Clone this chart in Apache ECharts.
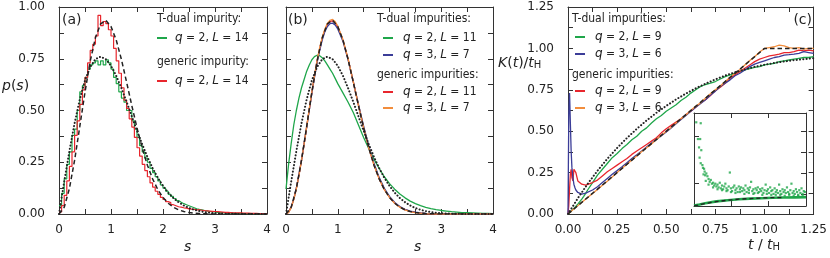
<!DOCTYPE html>
<html><head><meta charset="utf-8">
<script src="https://cdn.jsdelivr.net/npm/echarts@6/dist/echarts.min.js"></script>
<style>html,body{margin:0;padding:0;background:#fff}#c{width:830px;height:258px}</style>
</head><body><div id="c"></div>
<script>
// ---------- DATA ----------
// Panel (a): histograms, bin width 0.05 starting at s = 0
const histBin = 0.05;
const histGreenA = [0.04,0.10,0.17,0.24,0.30,0.38,0.41,0.50,0.59,0.62,
  0.66,0.70,0.72,0.73,0.74,0.72,0.74,0.72,0.745,0.73,
  0.70,0.66,0.63,0.59,0.56,0.54,0.50,0.50,0.45,0.41,
  0.37,0.33,0.30,0.27,0.25,0.22,0.20,0.18,0.16,0.14,
  0.125,0.11,0.095,0.085,0.075,0.065,0.057,0.05,0.045,0.04,
  0.035,0.03,0.025,0.022,0.02,0.017,0.015,0.012,0.011,0.01,
  0.008,0.007,0.006,0.005,0.005,0.004,0.004,0.003,0.003,0.003,
  0.002,0.002,0.002,0.002,0.001,0.001,0.001,0.001,0.001,0.001];
const histRedA = [0.01,0.04,0.09,0.16,0.23,0.30,0.38,0.45,0.53,0.60,
  0.66,0.73,0.79,0.82,0.86,0.96,0.91,0.93,0.92,0.89,
  0.86,0.80,0.74,0.68,0.61,0.55,0.51,0.46,0.42,0.37,
  0.32,0.28,0.24,0.21,0.18,0.15,0.13,0.11,0.095,0.08,
  0.07,0.06,0.055,0.045,0.04,0.035,0.033,0.03,0.028,0.025,
  0.024,0.022,0.02,0.02,0.018,0.016,0.015,0.014,0.013,0.012,
  0.011,0.01,0.009,0.008,0.008,0.007,0.006,0.006,0.005,0.005,
  0.004,0.004,0.004,0.003,0.003,0.003,0.002,0.002,0.002,0.002];
// Reference curves p(s) (dotted / dashed)
const sTheory = [0,0.1,0.2,0.3,0.4,0.5,0.6,0.7,0.8,0.9,1.0,1.1,1.2,1.3,1.4,1.5,1.6,1.7,1.8,1.9,2.0,
  2.1,2.2,2.3,2.4,2.5,2.6,2.7,2.8,2.9,3.0,3.1,3.2,3.3,3.4,3.5,3.6,3.7,3.8,3.9,4.0];
const pDotted = [0,0.156,0.304,0.439,0.554,0.646,0.710,0.748,0.760,0.748,0.716,0.668,0.608,0.542,0.472,0.402,0.337,0.276,0.222,0.175,0.136,
  0.103,0.077,0.057,0.041,0.029,0.020,0.014,0.009,0.006,0.004,0.0025,0.0016,0.001,0.0006,0.0004,0.0002,0.0001,0.0001,0,0];
const pDashed = [0,0.032,0.123,0.260,0.423,0.589,0.738,0.851,0.919,0.936,0.906,0.841,0.747,0.637,0.524,0.416,0.319,0.236,0.170,0.118,0.080,
  0.052,0.033,0.020,0.012,0.007,0.004,0.002,0.001,0.0006,0.0003,0.0001,0,0,0,0,0,0,0,0,0];
// Panel (b)
const sB = [0,0.05,0.1,0.15,0.2,0.25,0.3,0.35,0.4,0.45,0.5,0.55,0.6,0.65,0.7,0.75,0.8,0.85,0.9,0.95,1.0,
  1.1,1.2,1.3,1.4,1.5,1.6,1.7,1.8,1.9,2.0,2.1,2.2,2.3,2.4,2.5,2.6,2.7,2.8,2.9,3.0,
  3.1,3.2,3.3,3.4,3.5,3.6,3.7,3.8,3.9,4.0];
const greenB = [0.12,0.24,0.34,0.43,0.5,0.56,0.61,0.65,0.69,0.72,0.745,0.76,0.767,0.765,0.755,0.74,0.72,0.70,0.68,0.655,0.63,
  0.585,0.54,0.49,0.43,0.37,0.315,0.265,0.22,0.18,0.147,0.12,0.097,0.078,0.062,0.05,0.04,0.032,0.026,0.021,0.017,
  0.014,0.011,0.009,0.007,0.006,0.005,0.004,0.003,0.003,0.002];
const blueB = [0,0.01,0.034,0.072,0.125,0.19,0.262,0.34,0.42,0.503,0.584,0.66,0.73,0.79,0.84,0.88,0.906,0.92,0.922,0.913,0.894,
  0.835,0.745,0.64,0.53,0.424,0.328,0.245,0.177,0.124,0.085,0.056,0.036,0.023,0.014,0.009,0.005,0.003,0.002,0.001,0.001,
  0,0,0,0,0,0,0,0,0,0];
const redB = [0,0.009,0.033,0.072,0.124,0.188,0.26,0.338,0.421,0.505,0.587,0.665,0.736,0.797,0.848,0.888,0.915,0.93,0.933,0.924,0.904,
  0.84,0.748,0.638,0.526,0.418,0.321,0.238,0.171,0.119,0.081,0.053,0.034,0.021,0.013,0.008,0.004,0.002,0.001,0,0,
  0,0,0,0,0,0,0,0,0,0];
const orangeB = [0,0.008,0.031,0.07,0.122,0.186,0.259,0.339,0.423,0.508,0.59,0.668,0.74,0.802,0.853,0.893,0.921,0.936,0.94,0.93,0.908,
  0.843,0.749,0.639,0.525,0.417,0.32,0.237,0.17,0.118,0.08,0.052,0.033,0.02,0.012,0.007,0.004,0.002,0.001,0,0,
  0,0,0,0,0,0,0,0,0,0];
// Panel (c)
const tauC = [0,0.004,0.008,0.012,0.016,0.02,0.025,0.03,0.035,0.04,0.05,0.06,0.07,0.08,0.09,0.1,
  0.125,0.15,0.175,0.2,0.225,0.25,0.275,0.3,0.325,0.35,0.375,0.4,0.425,0.45,0.475,0.5,0.525,0.55,0.575,0.6,
  0.625,0.65,0.675,0.7,0.725,0.75,0.775,0.8,0.825,0.85,0.875,0.9,0.925,0.95,0.975,1.0,1.025,1.05,1.075,1.1,
  1.125,1.15,1.175,1.2,1.225,1.25];
const greenC = [0,0.004,0.008,0.012,0.017,0.022,0.028,0.034,0.04,0.047,0.06,0.075,0.09,0.107,0.125,0.145,
  0.19,0.235,0.27,0.305,0.34,0.365,0.395,0.42,0.448,0.47,0.5,0.52,0.55,0.575,0.595,0.62,0.64,0.66,0.685,0.705,
  0.73,0.75,0.77,0.782,0.79,0.8,0.815,0.83,0.84,0.85,0.86,0.87,0.878,0.885,0.89,0.9,0.905,0.91,0.92,0.925,
  0.93,0.935,0.94,0.945,0.945,0.95];
const blueC = [0,0.6,0.73,0.55,0.38,0.28,0.22,0.18,0.16,0.145,0.13,0.122,0.12,0.122,0.126,0.13,
  0.145,0.165,0.19,0.215,0.24,0.262,0.285,0.31,0.335,0.357,0.38,0.405,0.428,0.45,0.472,0.495,0.52,0.545,0.57,0.595,
  0.62,0.645,0.668,0.69,0.718,0.742,0.77,0.79,0.81,0.835,0.85,0.87,0.89,0.905,0.915,0.925,0.935,0.945,0.95,0.96,
  0.962,0.965,0.97,0.98,0.975,0.97];
const redC = [0,0.05,0.15,0.24,0.27,0.22,0.2,0.27,0.28,0.25,0.2,0.19,0.18,0.185,0.175,0.18,
  0.19,0.205,0.23,0.255,0.275,0.295,0.315,0.335,0.36,0.38,0.4,0.42,0.44,0.46,0.49,0.515,0.535,0.555,0.575,0.6,
  0.62,0.645,0.67,0.69,0.715,0.745,0.765,0.79,0.82,0.84,0.86,0.88,0.9,0.92,0.935,0.945,0.955,0.96,0.965,0.975,
  0.975,0.98,0.99,0.985,0.99,0.985];
const orangeC = [0,0.005,0.009,0.012,0.016,0.02,0.025,0.03,0.035,0.04,0.05,0.06,0.07,0.08,0.09,0.1,
  0.124,0.148,0.174,0.198,0.224,0.25,0.276,0.3,0.326,0.35,0.377,0.4,0.423,0.45,0.476,0.5,0.523,0.55,0.575,0.598,
  0.626,0.65,0.672,0.7,0.727,0.75,0.773,0.8,0.826,0.85,0.873,0.9,0.927,0.95,0.978,1.0,1.005,1.01,1.02,1.015,
  1.005,1.0,1.005,0.995,1.0,1.0];
const tauTheory = [0,0.05,0.1,0.15,0.2,0.25,0.3,0.35,0.4,0.45,0.5,0.55,0.6,0.65,0.7,0.75,0.8,0.85,0.9,0.95,1.0,1.05,1.1,1.15,1.2,1.25];
const kDotted = [0,0.095,0.182,0.261,0.333,0.399,0.459,0.514,0.565,0.611,0.653,0.692,0.727,0.759,0.787,0.813,0.836,0.856,0.873,0.889,0.901,0.912,0.921,0.929,0.935,0.941];
const tauDashed = [0,1,1.25];
const kDashed = [0,1,1];
// Inset (arbitrary units, no labels)
const insetT = [0.02,0.06,0.035,0.055,0.045,0.065,0.05,0.06,0.075,0.08,0.09,0.095,0.085,0.10,0.11,0.12,0.13,0.105,0.14,0.15,
  0.16,0.17,0.18,0.19,0.20,0.21,0.22,0.23,0.24,0.25,0.26,0.27,0.28,0.29,0.30,0.31,0.32,0.33,0.34,0.35,
  0.36,0.37,0.38,0.39,0.40,0.41,0.42,0.43,0.44,0.45,0.46,0.47,0.48,0.49,0.50,0.51,0.52,0.53,0.54,0.55,
  0.56,0.57,0.58,0.59,0.60,0.61,0.62,0.63,0.64,0.65,0.66,0.67,0.68,0.69,0.70,0.71,0.72,0.73,0.74,0.75,
  0.76,0.77,0.78,0.79,0.80,0.81,0.82,0.83,0.84,0.85,0.86,0.87,0.88,0.89,0.90,0.91,0.92,0.93,0.94,0.95,
  0.96,0.97,0.98,0.99,0.13,0.17,0.21,0.25,0.29,0.33,0.37,0.41,0.45,0.49,0.53,0.57,0.61,0.65,0.69,0.73,
  0.77,0.81,0.85,0.89,0.93,0.97];
const insetK = [0.90,0.89,0.72,0.72,0.63,0.60,0.52,0.46,0.44,0.41,0.40,0.37,0.34,0.33,0.35,0.32,0.29,0.27,0.26,0.28,
  0.24,0.25,0.22,0.24,0.21,0.23,0.20,0.25,0.19,0.22,0.18,0.21,0.24,0.19,0.17,0.21,0.36,0.19,0.16,0.20,
  0.22,0.17,0.19,0.15,0.21,0.18,0.20,0.16,0.19,0.17,0.22,0.15,0.19,0.17,0.20,0.26,0.16,0.18,0.14,0.19,
  0.17,0.20,0.15,0.18,0.16,0.19,0.14,0.17,0.23,0.16,0.18,0.14,0.20,0.16,0.17,0.13,0.19,0.15,0.17,0.14,
  0.23,0.16,0.13,0.18,0.15,0.17,0.14,0.20,0.15,0.13,0.17,0.24,0.14,0.16,0.13,0.18,0.15,0.12,0.17,0.14,
  0.19,0.13,0.16,0.15,0.23,0.20,0.18,0.17,0.16,0.15,0.14,0.15,0.13,0.14,0.13,0.14,0.12,0.13,0.12,0.12,
  0.12,0.11,0.12,0.11,0.11,0.11];
const insetLineT = [0,0.05,0.1,0.2,0.3,0.4,0.5,0.6,0.7,0.8,0.9,1.0];
const insetLineK = [0.005,0.017,0.03,0.05,0.062,0.072,0.079,0.084,0.088,0.091,0.093,0.095];
const insetDashT = [0,0.1,0.2,0.3,0.4,0.5,0.6,0.7,0.8];
const insetDashK = [0,0.027,0.047,0.062,0.073,0.08,0.086,0.09,0.092];

// ---------- STYLE ----------
const GREEN = '#1fa64a', RED = '#e8262d', BLUE = '#3b3d98', ORANGE = '#f28d3c', BLACK = '#222';
const FONT = 'DejaVu Sans', LFONT = 'DejaVu Sans Condensed';
const AXC = '#333';

function isInt(v){ return Math.abs(v - Math.round(v)) < 1e-9; }
const fmtInt = v => isInt(v) ? String(Math.round(v)) : '';
const fmtQuarter = v => isInt(v*4) ? v.toFixed(2) : '';

function axis(gridIndex, position, min, max, interval, fmt, extra){
  const isY = position === 'left' || position === 'right';
  const a = {
    type: 'value', gridIndex, position, min, max, interval,
    axisLine: {show: true, onZero: false, lineStyle: {color: AXC, width: 1}},
    axisTick: {show: true, inside: true, length: 5, lineStyle: {color: AXC, width: 1}},
    splitLine: {show: false},
    axisLabel: fmt ? {show: true, formatter: fmt, fontFamily: FONT, fontSize: 12, color: '#222', margin: isY ? 14 : 10} : {show: false}
  };
  return Object.assign(a, extra || {});
}
function line(xi, yi, xs, ys, color, opts){
  return Object.assign({
    type: 'line', xAxisIndex: xi, yAxisIndex: yi,
    data: xs.map((x, i) => [x, ys[i]]),
    symbol: 'none', showSymbol: false, animation: false, silent: true,
    lineStyle: {color, width: 1.3}, itemStyle: {color}, z: 2
  }, opts || {});
}
function hist(xi, yi, vals, color){
  const d = vals.map((v, i) => [i * histBin, v]);
  d.push([vals.length * histBin, vals[vals.length - 1]]);
  return {type: 'line', xAxisIndex: xi, yAxisIndex: yi, data: d, step: 'end',
    symbol: 'none', animation: false, silent: true, lineStyle: {color, width: 1.2}, z: 2};
}
const DOT = {type: [0.1, 3.2], width: 2, color: BLACK, cap: 'round'};
const DASH = {type: [4.5, 3], width: 1.5, color: BLACK};

const grids = [
  {left: 59, top: 7, width: 208, height: 207},
  {left: 286, top: 7, width: 207, height: 207},
  {left: 568, top: 7, width: 246, height: 207},
  {left: 694, top: 113, width: 112, height: 93, show: true, backgroundColor: '#fff', borderWidth: 0, z: 10}
];
const xAxes = [
  axis(0, 'bottom', 0, 4, 0.5, fmtInt), axis(0, 'top', 0, 4, 0.5, null),
  axis(1, 'bottom', 0, 4, 0.5, fmtInt), axis(1, 'top', 0, 4, 0.5, null),
  axis(2, 'bottom', 0, 1.25, 0.125, fmtQuarter), axis(2, 'top', 0, 1.25, 0.125, null),
  axis(3, 'bottom', 0, 1, null, null, {z: 11, axisTick: {show: true, inside: true, length: 5, lineStyle: {color: AXC}, customValues: [1/3, 2/3]}}),
  axis(3, 'top', 0, 1, null, null, {z: 11, axisTick: {show: true, inside: true, length: 5, lineStyle: {color: AXC}, customValues: [1/3, 2/3]}})
];
const yAxes = [
  axis(0, 'left', 0, 1, 0.125, fmtQuarter), axis(0, 'right', 0, 1, 0.125, null),
  axis(1, 'left', 0, 1, 0.125, null), axis(1, 'right', 0, 1, 0.125, null),
  axis(2, 'left', 0, 1.25, 0.125, fmtQuarter), axis(2, 'right', 0, 1.25, 0.125, null),
  axis(3, 'left', 0, 1, null, null, {z: 11, axisTick: {show: true, inside: true, length: 5, lineStyle: {color: AXC}, customValues: [0.25, 0.75]}}),
  axis(3, 'right', 0, 1, null, null, {z: 11, axisTick: {show: true, inside: true, length: 5, lineStyle: {color: AXC}, customValues: [0.13, 0.355, 0.575, 0.8]}})
];

const series = [
  // (a)
  hist(0, 0, histGreenA, GREEN),
  hist(0, 0, histRedA, RED),
  line(0, 0, sTheory, pDotted, BLACK, {lineStyle: DOT, z: 3}),
  line(0, 0, sTheory, pDashed, BLACK, {lineStyle: DASH, z: 3}),
  // (b)
  line(2, 2, sB, greenB, GREEN),
  line(2, 2, sTheory, pDotted, BLACK, {lineStyle: DOT, z: 3}),
  line(2, 2, sB, redB, RED),
  line(2, 2, sB, blueB, BLUE),
  line(2, 2, sB, orangeB, ORANGE),
  line(2, 2, sTheory, pDashed, BLACK, {lineStyle: DASH, z: 3}),
  // (c)
  line(4, 4, tauC, greenC, GREEN),
  line(4, 4, tauC, redC, RED),
  line(4, 4, tauC, blueC, BLUE),
  line(4, 4, tauC, orangeC, ORANGE),
  line(4, 4, tauTheory, kDotted, BLACK, {lineStyle: DOT, z: 3}),
  line(4, 4, tauDashed, kDashed, BLACK, {lineStyle: DASH, z: 3}),
  // inset
  {type: 'scatter', xAxisIndex: 6, yAxisIndex: 6, data: insetT.map((x, i) => [x, insetK[i]]),
    symbol: 'rect', symbolSize: 2.2, itemStyle: {color: GREEN}, animation: false, silent: true, z: 12},
  line(6, 6, insetLineT, insetLineK, GREEN, {lineStyle: {color: GREEN, width: 2.6}, z: 12}),
  line(6, 6, insetDashT, insetDashK, BLACK, {lineStyle: {type: [4, 3], width: 1.3, color: BLACK}, z: 13})
];

// ---------- TEXT / LEGENDS ----------
const RICH = {
  i: {fontStyle: 'italic', fontFamily: FONT, fontSize: 12, fill: '#222'},
  I: {fontStyle: 'italic', fontFamily: FONT, fontSize: 14, fill: '#222'},
  n: {fontFamily: FONT, fontSize: 14, fill: '#222'},
  sub: {fontFamily: FONT, fontSize: 10, fill: '#222', verticalAlign: 'bottom'}
};
function txt(x, y, text, size, family, align){
  return {type: 'text', x, y, z: 20, silent: true,
    style: {text, fill: '#222', fontFamily: family || FONT, fontSize: size || 12,
      align: align || 'left', verticalAlign: 'middle', rich: RICH}};
}
function sample(x, y, color){
  return {type: 'line', z: 20, silent: true, shape: {x1: x, y1: y, x2: x + 10, y2: y}, style: {stroke: color, lineWidth: 2}};
}
function entry(xs, xt, y, color, label){
  return [sample(xs, y, color), txt(xt, y, label, 12, LFONT)];
}
const qL = (q, L) => '{i|q} = ' + q + ', {i|L} = ' + L;

const graphics = [
  txt(62, 20, '(a)', 14), txt(288, 20, '(b)', 14), txt(812, 20, '(c)', 14, FONT, 'right'),
  txt(2, 86, '{I|p}{n|(}{I|s}{n|)}', 14),
  txt(184, 247, '{I|s}', 14), txt(414, 247, '{I|s}', 14),
  txt(498, 63, '{I|K}{n|(}{I|t}{n|)/}{I|t}{sub|H}', 14),
  txt(748, 245, '{I|t}{n| / }{I|t}{sub|H}', 14),
  // (a)
  txt(157, 19, 'T-dual impurity:', 12, LFONT),
  ...entry(157, 175, 38, GREEN, qL(2, 14)),
  txt(157, 62, 'generic impurity:', 12, LFONT),
  ...entry(157, 175, 81, RED, qL(2, 14)),
  // (b)
  txt(377, 19, 'T-dual impurities:', 12, LFONT),
  ...entry(383, 403, 38, GREEN, qL(2, 11)),
  ...entry(383, 403, 55, BLUE, qL(3, 7)),
  txt(377, 75, 'generic impurities:', 12, LFONT),
  ...entry(383, 403, 92, RED, qL(2, 11)),
  ...entry(383, 403, 108, ORANGE, qL(3, 7)),
  // (c)
  txt(572, 19, 'T-dual impurities:', 12, LFONT),
  ...entry(575, 595, 37, GREEN, qL(2, 9)),
  ...entry(575, 595, 54, BLUE, qL(3, 6)),
  txt(572, 75, 'generic impurities:', 12, LFONT),
  ...entry(575, 595, 91, RED, qL(2, 9)),
  ...entry(575, 595, 108, ORANGE, qL(3, 6))
];

const chart = echarts.init(document.getElementById('c'), null, {renderer: 'canvas'});
chart.setOption({
  animation: false,
  backgroundColor: '#fff',
  grid: grids,
  xAxis: xAxes,
  yAxis: yAxes,
  series,
  graphic: graphics
});
</script></body></html>
